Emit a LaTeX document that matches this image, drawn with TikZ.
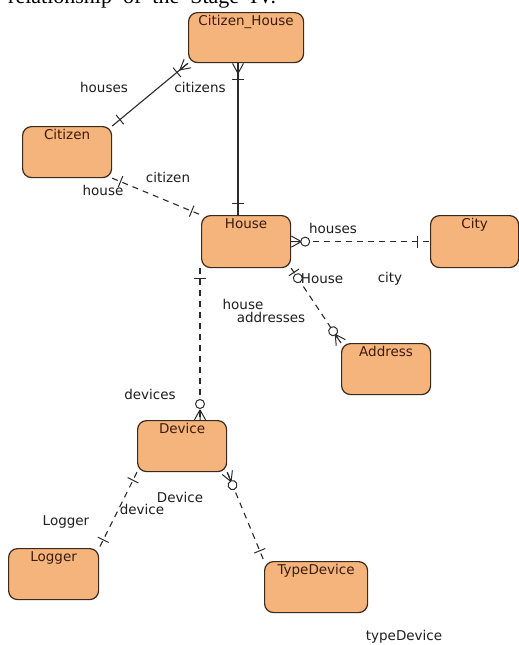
\documentclass[tikz,border=0pt]{standalone}
\usepackage{fontspec}
\setmainfont{DejaVu Sans}
\newfontfamily\capserif{Liberation Serif}
\usetikzlibrary{decorations.markings}
\definecolor{entfill}{HTML}{F4B47C}
\definecolor{entdraw}{HTML}{3A2A1E}
\definecolor{enttext}{HTML}{3B1C0C}
\definecolor{lbl}{HTML}{1E1E1E}
\definecolor{lnc}{HTML}{2A2A2A}
\tikzset{
  entity/.style={draw=entdraw, line width=1.2pt, fill=entfill, rounded corners=9pt,
    anchor=north west, inner sep=0pt},
  ttl/.style={font=\fontsize{13.5}{13.5}\selectfont, text=enttext, anchor=north,
    inner sep=0pt, text height=10pt, yshift=-3pt},
  lab/.style={font=\fontsize{13.5}{13.5}\selectfont, text=lbl, inner sep=0pt},
  conn/.style={draw=lnc, line width=1.1pt},
  dsh/.style={dash pattern=on 6pt off 5pt},
  barA/.style={postaction={decorate,decoration={markings,
    mark=at position #1 with {\draw[solid,draw=lnc,line width=1pt] (0pt,-6pt)--(0pt,6pt);}}}},
  barB/.style={postaction={decorate,decoration={markings,
    mark=at position -#1 with {\draw[solid,draw=lnc,line width=1pt] (0pt,-6pt)--(0pt,6pt);}}}},
  circA/.style={postaction={decorate,decoration={markings,
    mark=at position #1 with {\draw[solid,draw=lnc,line width=1pt,fill=white] (0pt,0pt) circle (4.5pt);}}}},
  circB/.style={postaction={decorate,decoration={markings,
    mark=at position -#1 with {\draw[solid,draw=lnc,line width=1pt,fill=white] (0pt,0pt) circle (4.5pt);}}}},
  crowA/.style={postaction={decorate,decoration={markings,
    mark=at position 0.2pt with {\draw[solid,draw=lnc,line width=1pt]
      (10pt,0pt)--(0pt,5.5pt) (10pt,0pt)--(0pt,-5.5pt) (10pt,0pt)--(0pt,0pt);}}}},
  crowB/.style={postaction={decorate,decoration={markings,
    mark=at position -0.2pt with {\draw[solid,draw=lnc,line width=1pt]
      (-10pt,0pt)--(0pt,5.5pt) (-10pt,0pt)--(0pt,-5.5pt) (-10pt,0pt)--(0pt,0pt);}}}},
}
\begin{document}
\begin{tikzpicture}[x=1pt,y=-1pt]
\useasboundingbox (0,0) rectangle (519,645);
\begin{scope}
  \clip (0,0) rectangle (519,645);
  \node[anchor=base west, inner sep=0pt, font=\capserif\fontsize{22}{22}\selectfont] (cap) at (8,3)
    {relationship\hspace{11pt}of\hspace{11pt}the\hspace{11pt}Stage\hspace{11pt}IV.};
\end{scope}

% entities
\node[entity, minimum width=115pt, minimum height=50pt] (ch) at (188,12) {};
\node[ttl] (chT) at (ch.north) {Citizen\_House};
\node[entity, minimum width=89pt, minimum height=51pt] (cit) at (22,126) {};
\node[ttl] (citT) at (cit.north) {Citizen};
\node[entity, minimum width=89pt, minimum height=52pt] (house) at (201,215) {};
\node[ttl] (houseT) at (house.north) {House};
\node[entity, minimum width=88pt, minimum height=52pt] (city) at (430,215) {};
\node[ttl] (cityT) at (city.north) {City};
\node[entity, minimum width=89pt, minimum height=51pt] (addr) at (341,343) {};
\node[ttl] (addrT) at (addr.north) {Address};
\node[entity, minimum width=89pt, minimum height=51pt] (dev) at (137,420) {};
\node[ttl] (devT) at (dev.north) {Device};
\node[entity, minimum width=90pt, minimum height=51pt] (log) at (8,548) {};
\node[ttl] (logT) at (log.north) {Logger};
\node[entity, minimum width=103pt, minimum height=51pt] (td) at (264,561) {};
\node[ttl] (tdT) at (td.north) {TypeDevice};

% connectors
\draw[conn, barA=10pt, barB=14pt, crowB] (cit.north east) -- (ch.south west);
\draw[conn, crowA, barA=16pt, barB=12pt] ([xshift=50pt]ch.south west) -- ([xshift=37pt]house.north west);
\draw[conn, dsh, barA=9pt, barB=10pt] (cit.south east) -- (house.north west);
\draw[conn, dsh, crowA, circA=14pt, barB=13pt] (house.east) -- (city.west);
\draw[conn, dsh, barA=5pt, circA=12pt, circB=14pt, crowB] (house.south east) -- (addr.north west);
\draw[conn, dsh, barA=10pt, circB=16pt, crowB] ([xshift=-1pt]house.south west) -- ([xshift=63pt]dev.north west);
\draw[conn, dsh, barA=9pt, barB=9pt] (dev.south west) -- (log.north east);
\draw[conn, dsh, crowA, circA=14pt, barB=11pt] (dev.south east) -- (td.north west);

% labels
\node[lab] (l1) at (104,87) {houses};
\node[lab] (l2) at (200,87) {citizens};
\node[lab] (l3) at (168,177) {citizen};
\node[lab] (l4) at (103,190) {house};
\node[lab] (l5) at (333,228) {houses};
\node[lab] (l6) at (322,279) {House};
\node[lab] (l7) at (390,279) {city};
\node[lab] (l8) at (243,304) {house};
\node[lab] (l9) at (271,317) {addresses};
\node[lab] (l10) at (150,394) {devices};
\node[lab] (l11) at (180,497) {Device};
\node[lab] (l12) at (142,509) {device};
\node[lab] (l13) at (66,522) {Logger};
\node[lab] (l14) at (404,637) {typeDevice};
\end{tikzpicture}
\end{document}
